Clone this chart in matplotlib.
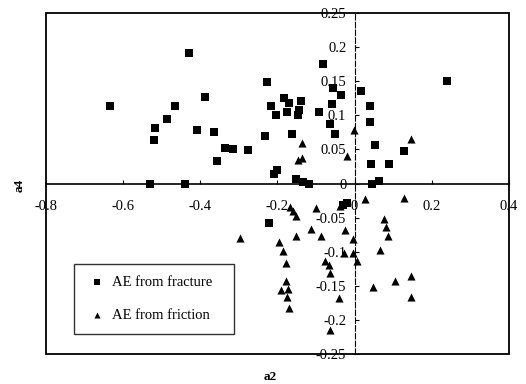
"""Scatter of AE shape coefficients a2 vs a4, fracture vs friction sources."""

import matplotlib

matplotlib.use("Agg")
import matplotlib.pyplot as plt
from matplotlib.patches import Rectangle

plt.rcParams["font.family"] = ["Liberation Serif", "DejaVu Serif"]

# AE from fracture (squares)
fracture_a2 = [
    -0.429, -0.634, -0.465, -0.486, -0.518, -0.520, -0.408, -0.530, -0.439,
    -0.389, -0.083, -0.228, -0.056, -0.034, -0.184, -0.170, -0.138, -0.217,
    -0.143, -0.174, -0.203, -0.148, -0.059, -0.093, -0.064, -0.365, -0.233,
    -0.162, -0.051, -0.337, -0.316, -0.276, -0.358, -0.210, -0.201, -0.151,
    -0.134, -0.117, 0.239, 0.016, 0.041, 0.041, 0.054, 0.128, 0.042, 0.088,
    0.063, 0.046, -0.222, -0.030, -0.021,
]
fracture_a4 = [
    0.191, 0.113, 0.113, 0.095, 0.081, 0.064, 0.079, 0.000, 0.000,
    0.127, 0.175, 0.149, 0.140, 0.130, 0.125, 0.118, 0.121, 0.114,
    0.108, 0.105, 0.100, 0.100, 0.117, 0.105, 0.088, 0.076, 0.070,
    0.072, 0.072, 0.052, 0.051, 0.049, 0.033, 0.014, 0.020, 0.007,
    0.003, 0.000, 0.150, 0.136, 0.114, 0.090, 0.056, 0.047, 0.028, 0.029,
    0.004, -0.001, -0.058, -0.032, -0.029,
]

# AE from friction (triangles)
friction_a2 = [
    -0.137, -0.148, -0.136, -0.019, -0.002, 0.145, 0.026, 0.127, 0.077,
    0.082, 0.087, -0.004, 0.065, -0.005, 0.007, 0.145, 0.105, 0.048,
    0.146, -0.168, -0.159, -0.151, -0.296, -0.195, -0.186, -0.177, -0.153,
    -0.177, -0.190, -0.173, -0.175, -0.171, -0.099, -0.112, -0.086, -0.026,
    -0.028, -0.078, -0.067, -0.063, -0.041, -0.063, -0.039,
]
friction_a4 = [
    0.059, 0.035, 0.037, 0.041, 0.078, 0.066, -0.023, -0.021, -0.052,
    -0.063, -0.077, -0.082, -0.098, -0.102, -0.114, -0.135, -0.143, -0.151,
    -0.166, -0.034, -0.040, -0.047, -0.080, -0.085, -0.099, -0.116, -0.077,
    -0.143, -0.156, -0.155, -0.166, -0.183, -0.036, -0.067, -0.077, -0.068,
    -0.102, -0.114, -0.120, -0.131, -0.168, -0.215, -0.033,
]

x_ticks = [-0.8, -0.6, -0.4, -0.2, 0, 0.2, 0.4]
x_labels = ["-0.8", "-0.6", "-0.4", "-0.2", "0", "0.2", "0.4"]
y_ticks = [-0.25, -0.2, -0.15, -0.1, -0.05, 0, 0.05, 0.1, 0.15, 0.2, 0.25]
y_labels = ["-0.25", "-0.2", "-0.15", "-0.1", "-0.05", "0",
            "0.05", "0.1", "0.15", "0.2", "0.25"]

fig = plt.figure(figsize=(5.26, 3.84), dpi=100)
ax = fig.add_axes([0.0875, 0.078, 0.880, 0.888])

ax.scatter(fracture_a2, fracture_a4, marker="s", s=28, color="black",
           linewidths=0, label="AE from fracture", zorder=3)
ax.scatter(friction_a2, friction_a4, marker="^", s=34, color="black",
           linewidths=0, label="AE from friction", zorder=3)

ax.set_xlim(-0.8, 0.4)
ax.set_ylim(-0.25, 0.25)

# axes cross at the origin: solid horizontal, dashed vertical
ax.spines["left"].set_position(("data", 0))
ax.spines["bottom"].set_position(("data", 0))
ax.spines["right"].set_visible(False)
ax.spines["top"].set_visible(False)
ax.spines["left"].set_linestyle((0, (5, 2)))
ax.spines["left"].set_linewidth(0.8)
ax.spines["bottom"].set_linewidth(1.2)

ax.set_xticks(x_ticks)
ax.set_xticklabels(x_labels)
ax.set_yticks(y_ticks)
ax.set_yticklabels(y_labels)
ax.tick_params(axis="x", direction="in", length=3, pad=12, labelsize=10.5)
ax.tick_params(axis="y", direction="in", length=3, pad=6, labelsize=10.5)

# outer frame
ax.add_patch(Rectangle((0, 0), 1, 1, transform=ax.transAxes, fill=False,
                       lw=1.3, edgecolor="black", clip_on=False))

leg = ax.legend(loc="lower left", bbox_to_anchor=(0.06, 0.059, 0.347, 0.2),
                mode="expand", borderaxespad=0, fontsize=10.5, frameon=True,
                fancybox=False, edgecolor="black", borderpad=0.8,
                labelspacing=1.4, handlelength=1.6, handletextpad=0.2,
                markerscale=0.75)
leg.get_frame().set_linewidth(1.0)

fig.text(20 / 526, 1 - 185 / 384, "a4", rotation=90, fontsize=9.5,
         fontweight="bold", ha="center", va="center")
fig.text(270 / 526, 1 - 377 / 384, "a2", fontsize=9.5, fontweight="bold",
         ha="center", va="center")

fig.savefig("out.png", dpi=100)
